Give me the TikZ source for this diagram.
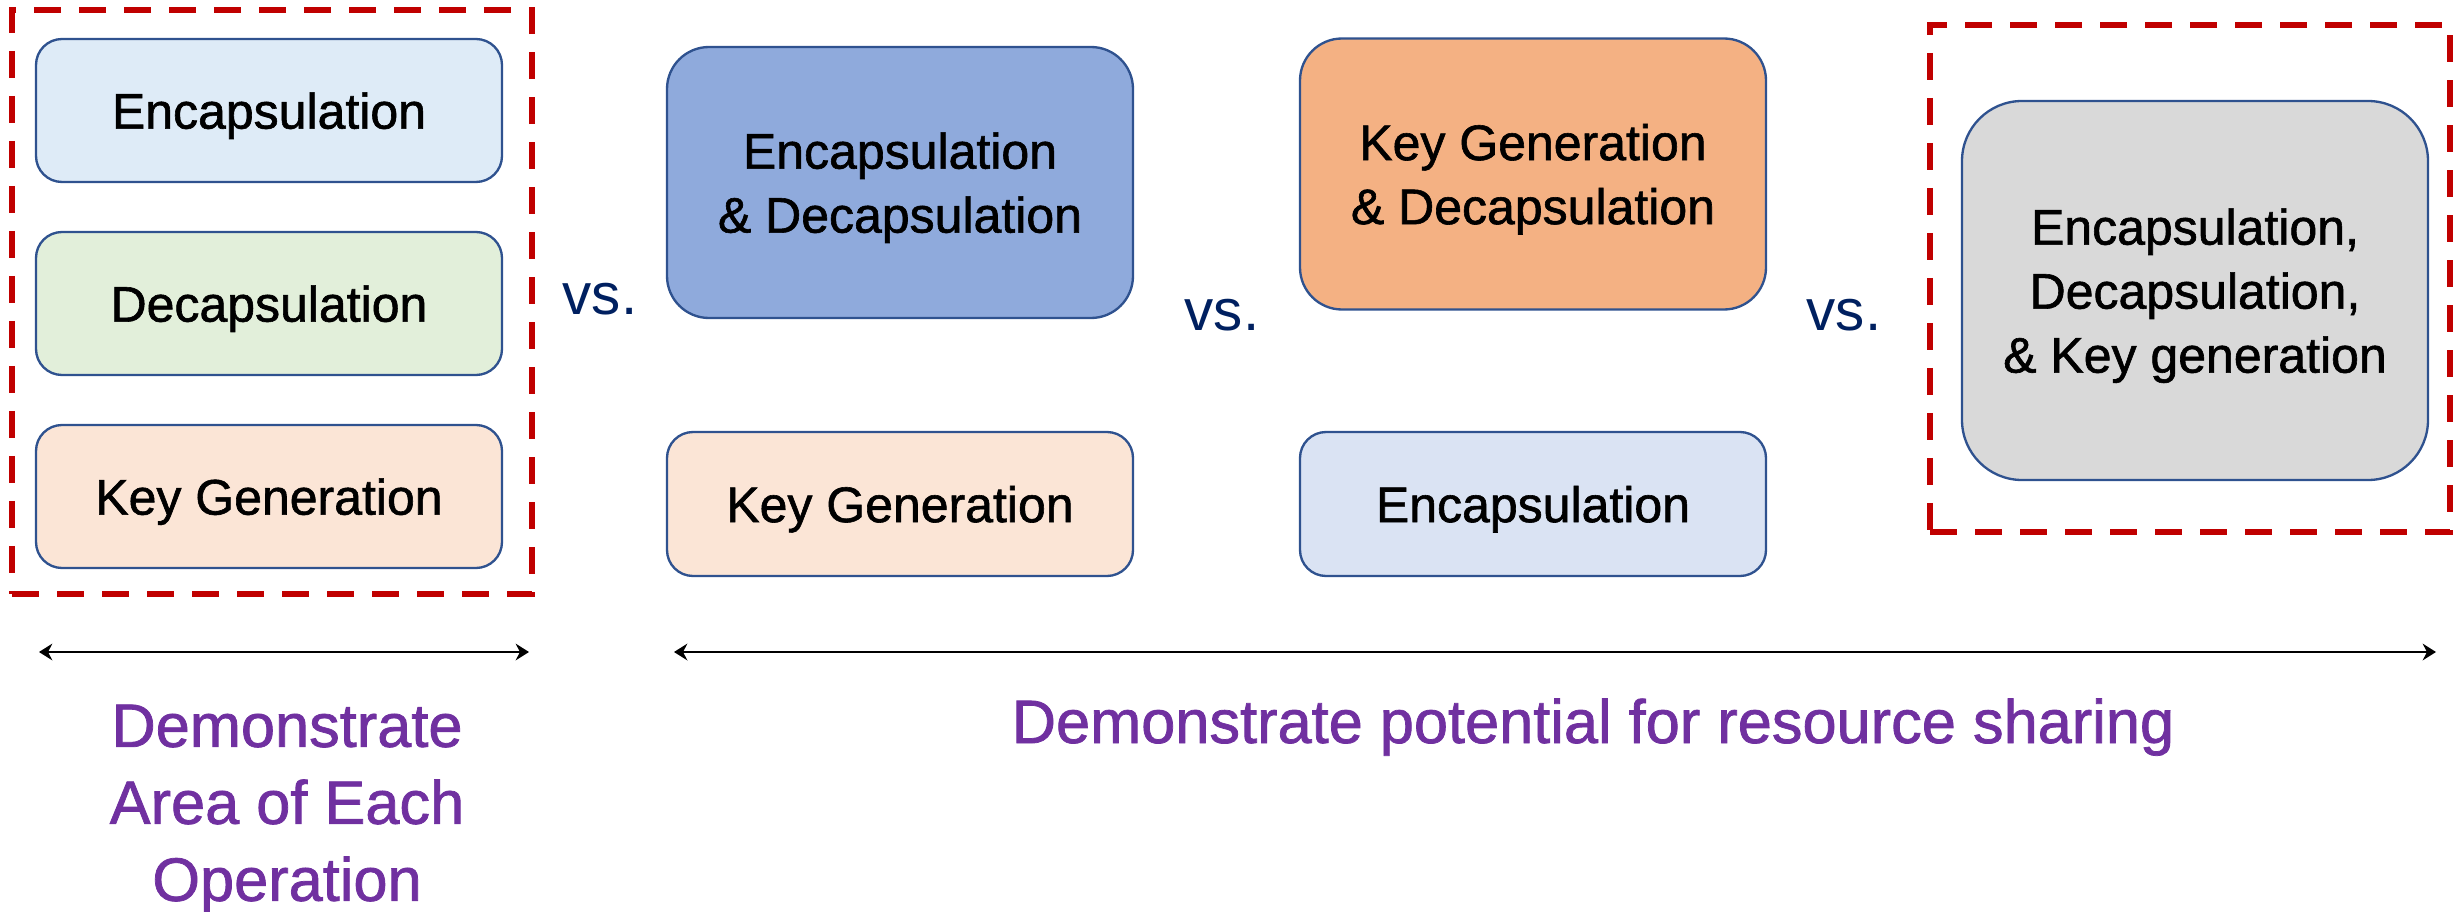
\documentclass[tikz,border=0pt]{standalone}
\usepackage{fontspec}
\setmainfont{Liberation Sans}[BoldFont=Liberation Sans, BoldFeatures={FakeBold=1.2}]
\usetikzlibrary{arrows.meta}

\definecolor{boxline}{HTML}{2F528F}
\definecolor{groupred}{HTML}{C00000}
\definecolor{vsblue}{HTML}{002060}
\definecolor{noteviolet}{HTML}{7030A0}
\definecolor{encfill}{HTML}{DEEBF7}
\definecolor{encfillb}{HTML}{DAE3F3}
\definecolor{decfill}{HTML}{E2EFDA}
\definecolor{kgfill}{HTML}{FBE5D6}
\definecolor{encdecfill}{HTML}{8FAADC}
\definecolor{kgdecfill}{HTML}{F4B183}
\definecolor{allfill}{HTML}{D9D9D9}

\begin{document}
\begin{tikzpicture}[x=0.3pt, y=-0.3pt,
  op/.style={draw=boxline, line width=0.7pt, rounded corners=7.8pt,
    minimum width=139.8pt, minimum height=42.9pt, inner sep=0pt, text depth=0pt,
    align=center, font=\fontsize{15}{19.2}\selectfont\bfseries},
  bigop/.style={op, rounded corners=12.6pt, minimum height=81.3pt},
  hugeop/.style={op, rounded corners=18pt, minimum height=113.7pt},
  group/.style={draw=groupred, line width=1.6pt, dash pattern=on 8pt off 5.5pt,
    inner sep=0pt, minimum width=156pt},
  versus/.style={text=vsblue, font=\fontsize{17.5}{21}\selectfont, anchor=base, inner sep=0pt},
  note/.style={text=noteviolet, font=\fontsize{18.4}{23.1}\selectfont\bfseries, inner sep=0pt, align=center},
  span/.style={line width=0.8pt, {Stealth[length=4pt,width=5pt]}-{Stealth[length=4pt,width=5pt]}}
]
\useasboundingbox (0,0) rectangle (2463,912);

% dashed groupings
\node[group, minimum height=175.2pt] (grpL) at (272,302) {};
\node[group, minimum height=152.1pt] (grpR) at (2190,278.5) {};

% individual operations
\node[op, fill=encfill] (enc1) at (269,110.5) {Encapsulation};
\node[op, fill=decfill] (dec1) at (269,303.5) {Decapsulation};
\node[op, fill=kgfill]  (kg1)  at (269,496.5) {Key Generation};

% shared encapsulation + decapsulation
\node[bigop, fill=encdecfill] (encdec) at (900,182.5) {Encapsulation\\\& Decapsulation};
\node[op, fill=kgfill, minimum height=43.2pt] (kg2) at (900,504) {Key Generation};

% shared key generation + decapsulation
\node[bigop, fill=kgdecfill] (kgdec) at (1533,174) {Key Generation\\\& Decapsulation};
\node[op, fill=encfillb, minimum height=43.2pt] (enc2) at (1533,504) {Encapsulation};

% everything shared
\node[hugeop, fill=allfill] (all) at (2195,290.5) {Encapsulation,\\Decapsulation,\\\& Key generation};

% comparisons
\node[versus] (vs1) at (600,315) {vs.};
\node[versus] (vs2) at (1222,331) {vs.};
\node[versus] (vs3) at (1844,331) {vs.};

% extent arrows
\coordinate (a1l) at (39,652);
\coordinate (a1r) at (529,652);
\coordinate (a2l) at (674,652);
\coordinate (a2r) at (2436,652);
\draw[span] (a1l) -- (a1r);
\draw[span] (a2l) -- (a2r);

% captions
\node[note, anchor=north] (capL) at (287,704) {Demonstrate\\Area of Each\\Operation};
\node[note, anchor=base] (capR) at (1593,743) {Demonstrate potential for resource sharing};
\end{tikzpicture}
\end{document}
